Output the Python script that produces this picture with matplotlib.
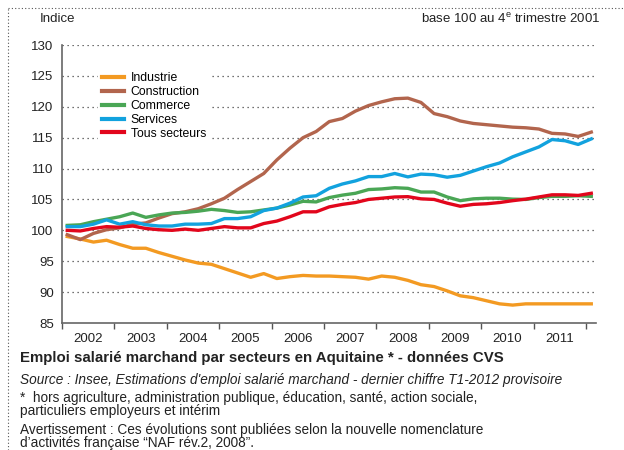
import matplotlib.pyplot as plt
from matplotlib.lines import Line2D

plt.rcParams['font.family'] = ['Liberation Sans', 'DejaVu Sans']

# trimestres T1-2002 .. T1-2012
quarters = [2002 + i * 0.25 for i in range(41)]

industrie = [99.0, 98.6, 98.1, 98.4, 97.7, 97.1, 97.1, 96.4, 95.8, 95.2,
             94.7, 94.5, 93.8, 93.1, 92.4, 93.0, 92.2, 92.5, 92.7, 92.6,
             92.6, 92.5, 92.4, 92.1, 92.6, 92.4, 91.9, 91.2, 90.9, 90.2,
             89.4, 89.1, 88.6, 88.1, 87.9, 88.1, 88.1, 88.1, 88.1, 88.1, 88.1]
construction = [99.3, 98.5, 99.5, 100.1, 100.4, 101.0, 101.2, 102.0, 102.7, 103.0,
                103.5, 104.3, 105.2, 106.6, 107.9, 109.2, 111.4, 113.3, 115.0, 116.0,
                117.6, 118.1, 119.3, 120.2, 120.8, 121.3, 121.4, 120.7, 118.9, 118.4,
                117.7, 117.3, 117.1, 116.9, 116.7, 116.6, 116.4, 115.7, 115.6, 115.2, 115.9]
commerce = [100.8, 100.9, 101.4, 101.8, 102.2, 102.8, 102.1, 102.5, 102.8, 102.9,
            103.1, 103.4, 103.2, 102.9, 103.0, 103.3, 103.6, 104.1, 104.7, 104.6,
            105.3, 105.7, 106.0, 106.6, 106.7, 106.9, 106.8, 106.2, 106.2, 105.4,
            104.8, 105.1, 105.2, 105.2, 105.05, 105.0, 105.3, 105.5, 105.5, 105.6, 105.5]
services = [100.6, 100.6, 101.0, 101.7, 101.0, 101.4, 100.9, 100.7, 100.7, 101.0,
            101.0, 101.1, 101.9, 101.9, 102.2, 103.2, 103.6, 104.4, 105.4, 105.6,
            106.8, 107.5, 108.0, 108.7, 108.7, 109.2, 108.65, 109.1, 109.0, 108.6,
            108.9, 109.6, 110.3, 110.9, 111.9, 112.7, 113.5, 114.7, 114.5, 113.9, 114.8]
tous = [100.0, 99.9, 100.3, 100.6, 100.5, 100.7, 100.3, 100.1, 100.0, 100.2,
        100.0, 100.3, 100.6, 100.4, 100.4, 101.1, 101.5, 102.2, 103.0, 103.0,
        103.8, 104.2, 104.5, 105.0, 105.2, 105.4, 105.45, 105.1, 105.0, 104.4,
        103.9, 104.2, 104.3, 104.5, 104.8, 105.05, 105.4, 105.75, 105.75, 105.65, 106.0]

labels = ['Industrie', 'Construction', 'Commerce', 'Services', 'Tous secteurs']
colors = ['#f39a22', '#b2654d', '#4aa655', '#12a2de', '#e2061c']
series = [industrie, construction, commerce, services, tous]
years = list(range(2002, 2012))

fig = plt.figure(figsize=(6.24, 4.5), dpi=100)
ax = fig.add_axes([62 / 624, 1 - 323 / 450, 534 / 624, 278 / 450])

for s, c, lab in zip(series, colors, labels):
    ax.plot([q + 0.1 for q in quarters], s, color=c, lw=2.4, label=lab,
            solid_joinstyle='round')

ax.set_xlim(2002, 2012.19)
ax.set_ylim(85, 130)
ax.set_yticks(range(85, 131, 5))
ax.tick_params(axis='y', length=0, labelsize=9.5, pad=6, colors='#222222')
ax.set_xticks(range(2002, 2013))
ax.set_xticklabels([])
ax.tick_params(axis='x', which='major', length=4, width=1, color='#555555', direction='out')
ax.set_xticks([y + 0.5 for y in years], minor=True)
ax.set_xticklabels([str(y) for y in years], minor=True)
ax.tick_params(axis='x', which='minor', length=0, labelsize=9.5, pad=7, colors='#222222')

for v in range(90, 131, 5):
    ax.axhline(v, color='#444444', lw=0.9, ls=(0, (1, 3)), zorder=0)
for side in ['top', 'right']:
    ax.spines[side].set_visible(False)
for side in ['left', 'bottom']:
    ax.spines[side].set_color('#666666')
    ax.spines[side].set_linewidth(1.2)

handles = [Line2D([], [], color=c, lw=3) for c in colors]
leg = ax.legend(handles, labels, loc='upper left', bbox_to_anchor=(0.068, 0.915),
                frameon=True, fontsize=8.8, handlelength=1.8, handletextpad=0.55,
                labelspacing=0.15, borderpad=0.3, borderaxespad=0)
leg.get_frame().set_facecolor('white')
leg.get_frame().set_edgecolor('none')
leg.get_frame().set_alpha(1)

fig.text(40 / 624, 1 - 19 / 450, 'Indice', fontsize=9.5, va='center', color='#222222')
fig.text(600 / 624, 1 - 19 / 450, 'base 100 au 4$^{\\mathregular{e}}$ trimestre 2001',
         fontsize=9.5, va='center', ha='right', color='#222222')

fig.text(20 / 624, 1 - 358 / 450,
         'Emploi salarié marchand par secteurs en Aquitaine * - données CVS',
         fontsize=10.8, fontweight='bold', va='center', color='#222222')
fig.text(20 / 624, 1 - 380 / 450,
         "Source : Insee, Estimations d'emploi salarié marchand - dernier chiffre T1-2012 provisoire",
         fontsize=9.8, style='italic', va='center', color='#222222')
fig.text(20 / 624, 1 - 404.5 / 450,
         '*  hors agriculture, administration publique, éducation, santé, action sociale,\n'
         'particuliers employeurs et intérim',
         fontsize=9.8, va='center', linespacing=0.9, color='#222222')
fig.text(20 / 624, 1 - 436.5 / 450,
         'Avertissement : Ces évolutions sont publiées selon la nouvelle nomenclature\n'
         'd\u2019activités française \u201cNAF rév.2, 2008\u201d.',
         fontsize=9.8, va='center', linespacing=0.9, color='#222222')

# cadre pointillé
fig.add_artist(Line2D([8 / 624, 8 / 624], [0, 1 - 8 / 450], transform=fig.transFigure,
                      color='#555555', lw=0.8, ls=(0, (1, 2))))
fig.add_artist(Line2D([8 / 624, 1], [1 - 8 / 450, 1 - 8 / 450], transform=fig.transFigure,
                      color='#555555', lw=0.8, ls=(0, (1, 2))))

fig.savefig('out.png', dpi=100)
